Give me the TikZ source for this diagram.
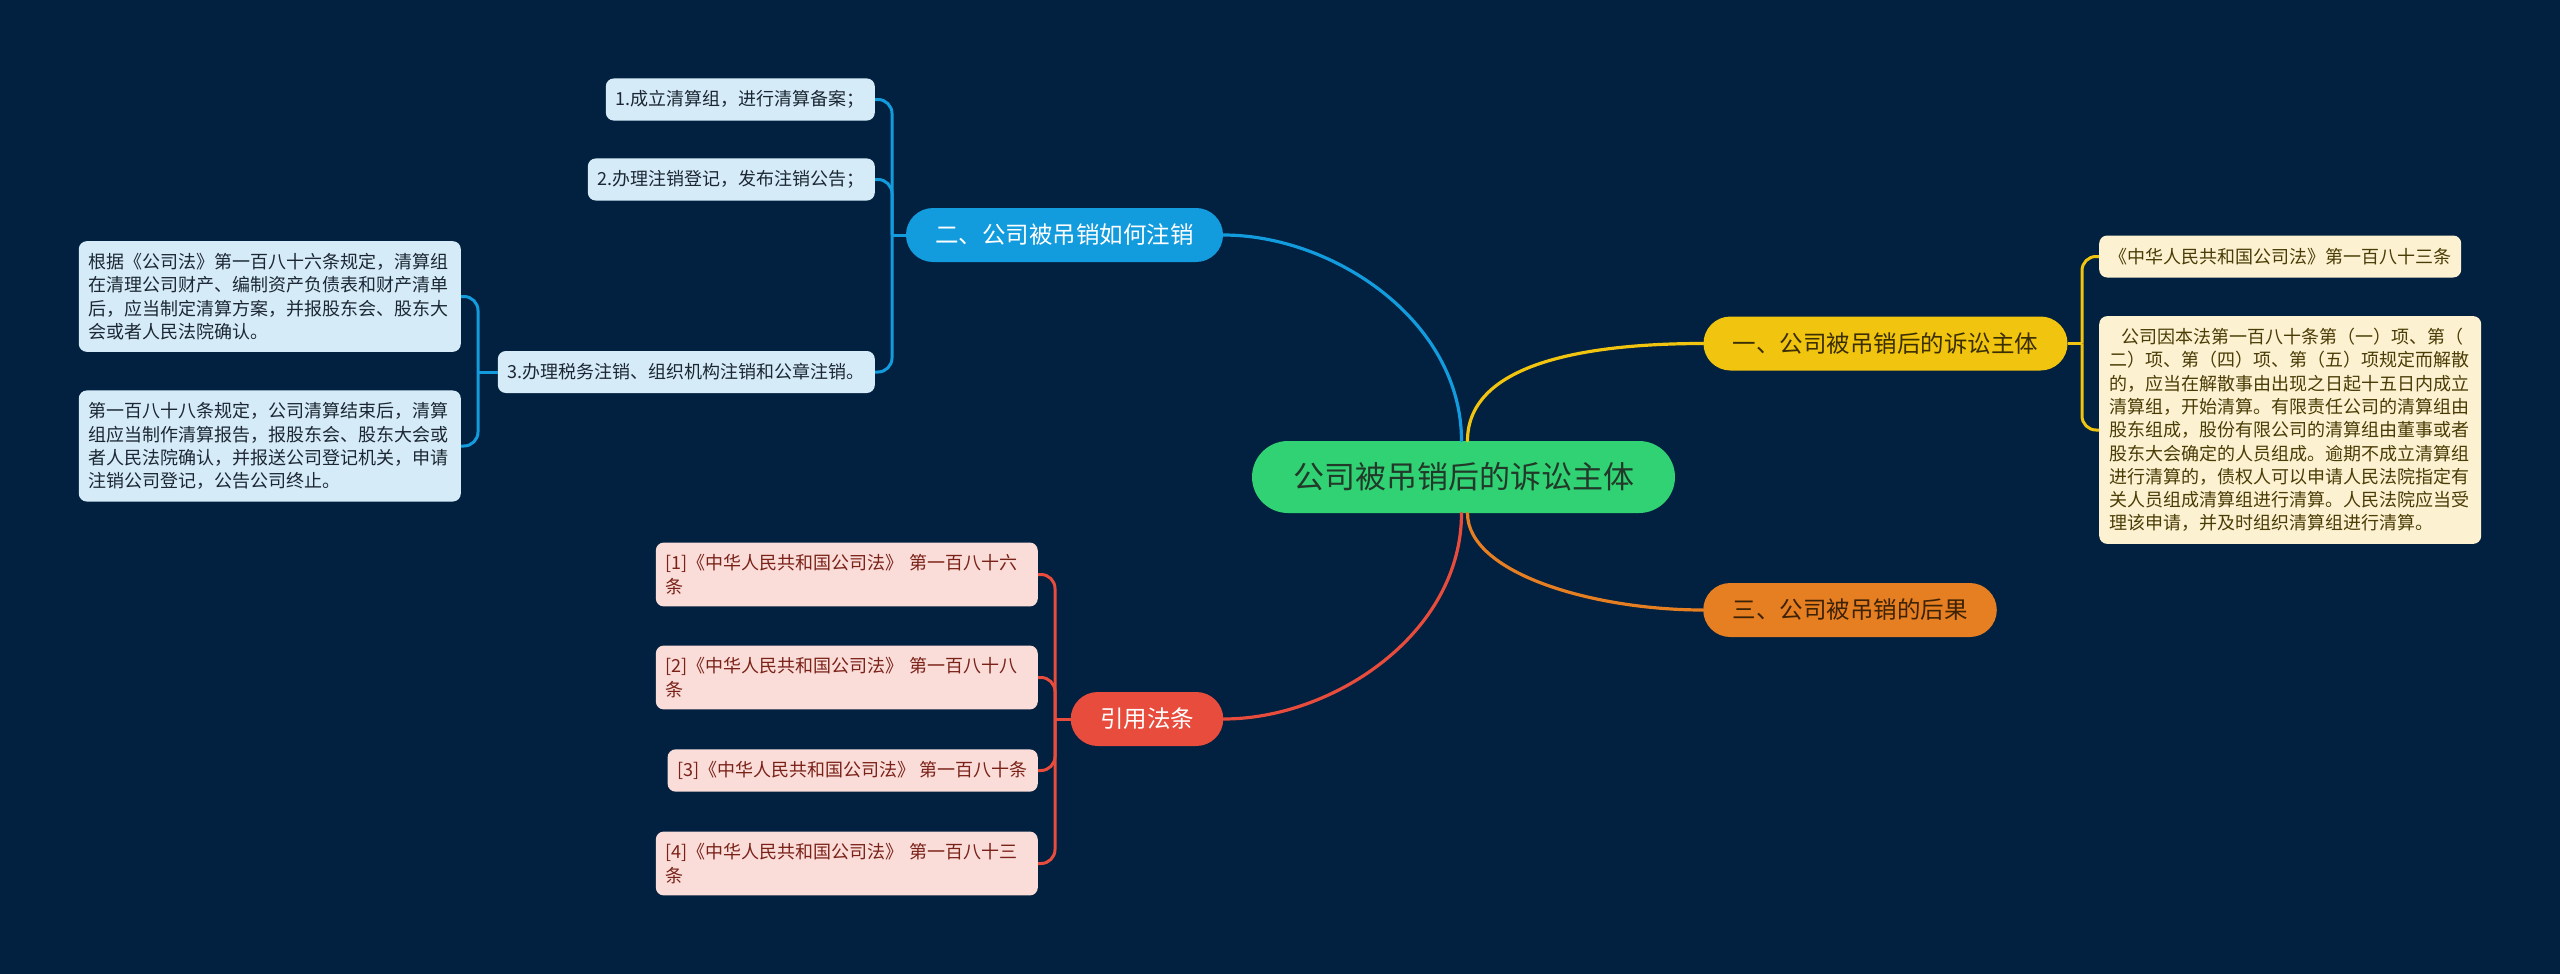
\documentclass[tikz,border=0pt]{standalone}
\usepackage{fontspec}
\setmainfont{Noto Sans CJK SC}
\usetikzlibrary{shapes.misc}
\definecolor{bg}{HTML}{02203F}
\definecolor{cgreen}{HTML}{31D273}
\definecolor{cgreentext}{HTML}{22392A}
\definecolor{cblue}{HTML}{129BDD}
\definecolor{cyellow}{HTML}{F1C40F}
\definecolor{corange}{HTML}{E67E22}
\definecolor{cred}{HTML}{E74C3C}
\definecolor{leafblue}{HTML}{D5ECF8}
\definecolor{leafbluetext}{HTML}{1C2733}
\definecolor{leafyellow}{HTML}{FCF2D2}
\definecolor{leafyellowtext}{HTML}{4A3C05}
\definecolor{leafpink}{HTML}{FADCD9}
\definecolor{leafpinktext}{HTML}{7A2218}
\definecolor{darkyellowtext}{HTML}{3A2E02}
\definecolor{darkorangetext}{HTML}{3D2205}
\begin{document}
\begin{tikzpicture}[x=1pt,y=-1pt,
  pill/.style={rounded rectangle, minimum height=54, inner xsep=27, inner ysep=0,
    font=\fontsize{23.5}{28}\selectfont},
  leaf/.style={rounded corners=8, inner xsep=10, inner ysep=12, minimum height=42,
    font=\fontsize{18}{23.3}\selectfont, align=left},
  leafb/.style={leaf, fill=leafblue, text=leafbluetext},
  leafy/.style={leaf, fill=leafyellow, text=leafyellowtext},
  leafp/.style={leaf, fill=leafpink, text=leafpinktext},
  mainline/.style={line width=3.2, line cap=round},
  subline/.style={line width=3, rounded corners=14}
]
\fill[bg] (0,0) rectangle (2560,974);
\useasboundingbox (0,0) rectangle (2560,974);

% central
\node[rounded rectangle, minimum height=72, minimum width=417, inner xsep=38, fill=cgreen,
  text=cgreentext, font=\fontsize{31}{36}\selectfont] (m) at (1463.5,477) {公司被吊销后的诉讼主体};

% branches
\node[pill, fill=cblue, text=white] (b2) at (1064.5,235) {二、公司被吊销如何注销};
\node[pill, fill=cyellow, text=darkyellowtext] (b1) at (1885.5,343.5) {一、公司被吊销后的诉讼主体};
\node[pill, fill=corange, text=darkorangetext] (b3) at (1850,610) {三、公司被吊销的后果};
\node[pill, fill=cred, text=white] (b4) at (1147,719) {引用法条};

% main connectors
\draw[mainline, cblue] ([xshift=-2]m.north) .. controls +(0,-120) and +(110,0) .. (b2.east);
\draw[mainline, cyellow] ([xshift=4]m.north) .. controls +(0,-80) and +(-110,0) .. (b1.west);
\draw[mainline, cred] ([xshift=-2]m.south) .. controls +(0,120) and +(110,0) .. (b4.east);
\draw[mainline, corange] ([xshift=4]m.south) .. controls +(0,60) and +(-110,0) .. (b3.west);

% blue children
\node[leafb, anchor=east] (c1) at (875,99.5) {1.成立清算组，进行清算备案；};
\node[leafb, anchor=east] (c2) at (875,179.5) {2.办理注销登记，发布注销公告；};
\node[leafb, anchor=east] (c3) at (875,372) {3.办理税务注销、组织机构注销和公章注销。};
\node[leafb, anchor=east, text width=362] (g1) at (461,296.5) {根据《公司法》第一百八十六条规定，清算组\\在清理公司财产、编制资产负债表和财产清单\\后，应当制定清算方案，并报股东会、股东大\\会或者人民法院确认。};
\node[leafb, anchor=east, text width=362] (g2) at (461,446) {第一百八十八条规定，公司清算结束后，清算\\组应当制作清算报告，报股东会、股东大会或\\者人民法院确认，并报送公司登记机关，申请\\注销公司登记，公告公司终止。};

\coordinate (jb) at (892,235);
\draw[subline, cblue] (b2.west) -- (jb);
\draw[subline, cblue] (jb) |- (c1.east);
\draw[subline, cblue] (jb) |- (c2.east);
\draw[subline, cblue] (jb) |- (c3.east);
\coordinate (jg) at (478,372);
\draw[subline, cblue] (c3.west) -- (jg);
\draw[subline, cblue] (jg) |- (g1.east);
\draw[subline, cblue] (jg) |- (g2.east);

% yellow children
\node[leafy, anchor=west] (y1) at (2099,256.5) {《中华人民共和国公司法》第一百八十三条};
\node[leafy, anchor=west, text width=362] (y2) at (2099,430) {\hspace*{12pt}公司因本法第一百八十条第（一）项、第（\\二）项、第（四）项、第（五）项规定而解散\\的，应当在解散事由出现之日起十五日内成立\\清算组，开始清算。有限责任公司的清算组由\\股东组成，股份有限公司的清算组由董事或者\\股东大会确定的人员组成。逾期不成立清算组\\进行清算的，债权人可以申请人民法院指定有\\关人员组成清算组进行清算。人民法院应当受\\理该申请，并及时组织清算组进行清算。};
\coordinate (jy) at (2082,343.5);
\draw[subline, cyellow] (b1.east) -- (jy);
\draw[subline, cyellow] (jy) |- (y1.west);
\draw[subline, cyellow] (jy) |- (y2.west);

% red children
\node[leafp, anchor=east, text width=362] (r1) at (1038,574.5) {[1]《中华人民共和国公司法》 第一百八十六\\条};
\node[leafp, anchor=east, text width=362] (r2) at (1038,677.5) {[2]《中华人民共和国公司法》 第一百八十八\\条};
\node[leafp, anchor=east] (r3) at (1038,770.5) {[3]《中华人民共和国公司法》 第一百八十条};
\node[leafp, anchor=east, text width=362] (r4) at (1038,863.5) {[4]《中华人民共和国公司法》 第一百八十三\\条};
\coordinate (jr) at (1055,719);
\draw[subline, cred] (b4.west) -- (jr);
\draw[subline, cred] (jr) |- (r1.east);
\draw[subline, cred] (jr) |- (r2.east);
\draw[subline, cred] (jr) |- (r3.east);
\draw[subline, cred] (jr) |- (r4.east);
\end{tikzpicture}
\end{document}
